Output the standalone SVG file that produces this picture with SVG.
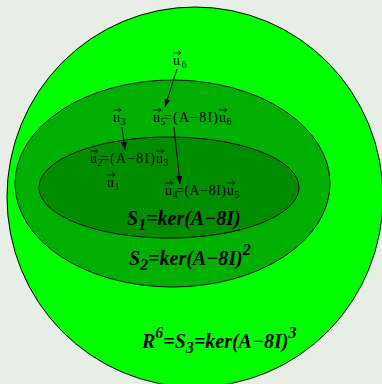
<svg xmlns="http://www.w3.org/2000/svg" width="382" height="384" viewBox="0 0 382 384">
<style>
.lbl{font-family:"Liberation Serif","Times New Roman",serif;font-size:14px;fill:#000}
.big{font-family:"Liberation Serif","Times New Roman",serif;font-size:20px;font-weight:bold;font-style:italic;fill:#000}
.sub{font-size:10px}
.bsub{font-size:16px}
.edge{stroke:#000;stroke-width:1;fill:none}
.set{stroke:#000;stroke-width:1}
.vec{stroke:#000;stroke-width:0.8;fill:none}
</style>
<defs>
<marker id="ah" markerUnits="userSpaceOnUse" markerWidth="10" markerHeight="8" refX="8" refY="4" orient="auto">
<path d="M0,1 L8,4 L0,7 Z" fill="#000"/>
</marker>
<path id="vec" class="vec" d="M0,0 H8 M5.5,-2 L8,0 L5.5,2"/>
</defs>
<rect width="382" height="384" fill="#e6eee6"/>
<g id="S3"><ellipse class="set" cx="195" cy="197" rx="188" ry="190" fill="#00ff00"/></g>
<g id="S2"><ellipse class="set" cx="172.5" cy="183.5" rx="157.5" ry="103.5" fill="#00b000"/></g>
<g id="S1"><ellipse class="set" cx="169" cy="187.5" rx="130" ry="50.5" fill="#008e00"/></g>
<g id="connectors">
<line class="edge" x1="177" y1="69" x2="165" y2="107" marker-end="url(#ah)"/>
<line class="edge" x1="122" y1="127" x2="125" y2="150" marker-end="url(#ah)"/>
<line class="edge" x1="174" y1="127" x2="180" y2="184" marker-end="url(#ah)"/>
</g>
<g id="u6">
<text class="lbl" x="173" y="65">u<tspan class="sub" x="181.5" y="68">6</tspan></text>
<use href="#vec" x="173" y="53"/>
</g>
<g id="u5">
<text class="lbl" x="153" y="122">u<tspan class="sub" x="160.5" y="125">5</tspan><tspan x="164" y="122" textLength="54">=(A−8I)</tspan><tspan x="219" y="122">u</tspan><tspan class="sub" x="226.5" y="125">6</tspan></text>
<use href="#vec" x="153" y="110"/><use href="#vec" x="219" y="110"/>
</g>
<g id="u3">
<text class="lbl" x="113" y="122">u<tspan class="sub" x="120.5" y="125">3</tspan></text>
<use href="#vec" x="113" y="110"/>
</g>
<g id="u2">
<text class="lbl" x="90" y="163">u<tspan class="sub" x="97.5" y="166">2</tspan><tspan x="101" y="163" textLength="54">=(A−8I)</tspan><tspan x="156" y="163">u</tspan><tspan class="sub" x="163.5" y="166">3</tspan></text>
<use href="#vec" x="90" y="151"/><use href="#vec" x="156" y="151"/>
</g>
<g id="u1">
<text class="lbl" x="107" y="187">u<tspan class="sub" x="114.5" y="190">1</tspan></text>
<use href="#vec" x="107" y="175"/>
</g>
<g id="u4">
<text class="lbl" x="165" y="195">u<tspan class="sub" x="172.5" y="198">4</tspan><tspan x="176" y="195" textLength="50">=(A−8I)</tspan><tspan x="227" y="195">u</tspan><tspan class="sub" x="234.5" y="198">5</tspan></text>
<use href="#vec" x="165" y="183"/><use href="#vec" x="227" y="183"/>
</g>
<g id="labelS1"><text class="big" x="127" y="225">S<tspan class="bsub" dy="5">1</tspan><tspan dy="-5">=ker(A−8I)</tspan></text></g>
<g id="labelS2"><text class="big" x="129" y="265">S<tspan class="bsub" dy="5">2</tspan><tspan dy="-5">=ker(A−8I)</tspan><tspan class="bsub" dy="-10">2</tspan></text></g>
<g id="labelS3"><text class="big" x="142" y="348">R<tspan class="bsub" dy="-10">6</tspan><tspan dy="10">=S</tspan><tspan class="bsub" dy="5">3</tspan><tspan dy="-5">=ker(A−8I)</tspan><tspan class="bsub" dy="-10">3</tspan></text></g>
</svg>
